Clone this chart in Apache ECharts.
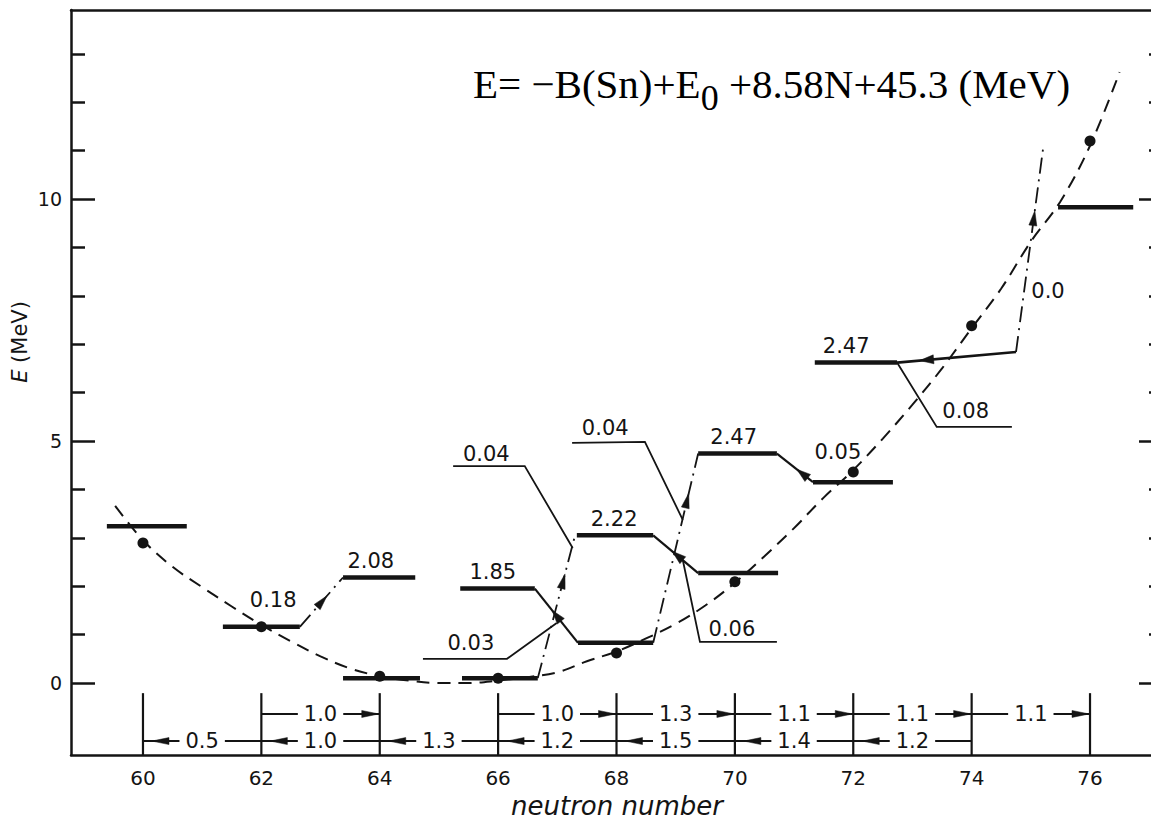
<!DOCTYPE html>
<html>
<head>
<meta charset="utf-8">
<script src="https://cdn.jsdelivr.net/npm/echarts@6/dist/echarts.min.js"></script>
<style>
  html, body { margin: 0; padding: 0; background: #fff; }
  #chart { width: 1151px; height: 822px; }
</style>
</head>
<body>
<div id="chart"></div>
<script>
// ---- axis ranges and ticks ----
const X_MIN = 58.784, X_MAX = 77.233;
const Y_MIN = -1.488, Y_MAX = 13.905;
const xTickLabels = [60, 62, 64, 66, 68, 70, 72, 74, 76];
const yMajorTicks = [0, 5, 10];
const yMinorTicks = [1, 2, 3, 4, 6, 7, 8, 9, 11, 12, 13];

// ---- ground-state levels (N span, energy in MeV) ----
const groundStart = [59.39, 61.35, 63.38, 65.39, 67.35, 69.38, 71.32, 75.46];
const groundEnd   = [60.74, 62.65, 64.68, 66.67, 68.62, 70.73, 72.67, 76.73];
const groundE     = [3.24, 1.16, 0.10, 0.10, 0.83, 2.27, 4.15, 9.83];

// ---- excited states: parent ground level, N span, excitation energy ----
const excitedGround = [2, 3, 4, 5, 6];
const excitedStart  = [63.38, 65.36, 67.33, 69.38, 71.35];
const excitedEnd    = [64.60, 66.62, 68.62, 70.71, 72.74];
const excitedEnergy = [2.08, 1.85, 2.22, 2.47, 2.47];
const excitedLabelN = [63.85, 65.91, 67.96, 69.98, 71.88];

// ---- two-neutron transfer transitions (dash-dot) ----
const transFromN = [62.65, 66.67, 68.62, 74.75];
const transFromE = [1.16, 0.10, 0.83, 6.84];
const transToN   = [63.38, 67.30, 69.38, 75.21];
const transToE   = [2.18, 3.05, 4.74, 11.07];

// ---- solid connectors between levels ----
const linkFromN = [66.62, 68.62, 70.71, 72.74];
const linkFromE = [1.95, 3.05, 4.74, 6.62];
const linkToN   = [67.35, 69.38, 71.32, 74.75];
const linkToE   = [0.83, 2.27, 4.15, 6.84];

// ---- leader lines for strength labels ----
const leaderPaths = [
  [[65.24, 4.48], [66.45, 4.48], [67.26, 2.79]],
  [[67.25, 4.96], [68.48, 4.98], [69.12, 3.37]],
  [[64.73, 0.50], [66.15, 0.50], [66.99, 1.24]],
  [[69.12, 2.54], [69.41, 0.85], [70.71, 0.85]],
  [[72.74, 6.62], [73.41, 5.29], [74.68, 5.29]]
];

// ---- strength labels ----
const strengthText = ['0.04', '0.04', '0.03', '0.06', '0.08', '0.18', '0.05', '0.0'];
const strengthN    = [65.80, 67.81, 65.54, 69.95, 73.90, 62.20, 71.74, 75.29];
const strengthE    = [4.73, 5.27, 0.83, 1.12, 5.62, 1.71, 4.77, 8.10];

// ---- dashed systematics curve ----
const curveN = [59.53, 60.0, 60.5, 61.0, 61.5, 62.0, 62.5, 63.0, 63.5, 64.0, 64.5, 65.0, 65.5,
                66.0, 66.5, 67.0, 67.5, 68.0, 68.5, 69.0, 69.5, 70.0, 70.5, 71.0, 71.5, 72.0,
                72.5, 73.0, 73.5, 74.0, 74.5, 75.0, 75.5, 76.0, 76.5];
const curveE = [3.66, 2.95, 2.40, 1.98, 1.58, 1.20, 0.86, 0.55, 0.30, 0.14, 0.05, 0.0, 0.0,
                0.05, 0.12, 0.22, 0.45, 0.65, 0.92, 1.22, 1.60, 2.07, 2.62, 3.20, 3.83, 4.40,
                5.05, 5.75, 6.50, 7.33, 8.15, 9.12, 9.95, 11.10, 12.62];

// ---- measured points ----
const dotN = [60, 62, 64, 66, 68, 70, 72, 74, 76];
const dotE = [2.89, 1.16, 0.14, 0.10, 0.62, 2.09, 4.36, 7.38, 11.2];

// ---- separation-energy brackets below the levels ----
const bracketN = [60, 62, 64, 66, 68, 70, 72, 74, 76];
const bracketTopE = -0.21;
const forwardRowE = -0.64;
const forwardFrom = [62, 66, 68, 70, 72, 74];
const forwardTo   = [64, 68, 70, 72, 74, 76];
const forwardText = ['1.0', '1.0', '1.3', '1.1', '1.1', '1.1'];
const backwardRowE = -1.20;
const backwardFrom = [60, 62, 64, 66, 68, 70, 72];
const backwardTo   = [62, 64, 66, 68, 70, 72, 74];
const backwardText = ['0.5', '1.0', '1.3', '1.2', '1.5', '1.4', '1.2'];

// ---- styling ----
const INK = '#141414';
const SANS = '"DejaVu Sans", "Liberation Sans", sans-serif';
const SERIF = '"Liberation Serif", "Times New Roman", serif';
const LABEL_FONT = '21px ' + SANS;
const transArrowAt = [0.63, 0.73, 0.79, 0.69];
const linkArrowAt = [0.40, 0.42, 0.55, 0.19];

function arrowHead(tip, dir, len, half) {
  const bx = tip[0] - dir[0] * len, by = tip[1] - dir[1] * len;
  const nx = -dir[1], ny = dir[0];
  return {
    type: 'polygon',
    shape: { points: [[tip[0], tip[1]], [bx + nx * half, by + ny * half], [bx - nx * half, by - ny * half]] },
    style: { fill: INK, stroke: INK, lineWidth: 0.5 }
  };
}
function unit(a, b) {
  const dx = b[0] - a[0], dy = b[1] - a[1];
  const l = Math.sqrt(dx * dx + dy * dy) || 1;
  return [dx / l, dy / l];
}
function seg(a, b, width, dash) {
  return {
    type: 'line',
    shape: { x1: a[0], y1: a[1], x2: b[0], y2: b[1] },
    style: { stroke: INK, lineWidth: width, lineDash: dash || null, fill: null }
  };
}
function label(p, text, font, vAlign, bg) {
  const st = { text: text, x: p[0], y: p[1], font: font, fill: INK, align: 'center', verticalAlign: vAlign || 'middle' };
  if (bg) { st.backgroundColor = '#fff'; st.padding = [0, 6]; }
  return { type: 'text', style: st, z2: 10 };
}

const chart = echarts.init(document.getElementById('chart'), null, { renderer: 'svg' });

const yCommon = { type: 'value', min: Y_MIN, max: Y_MAX, splitLine: { show: false } };
const option = {
  animation: false,
  backgroundColor: '#fff',
  grid: { left: 71, top: 10, width: 1092, bottom: 67, containLabel: false, outerBoundsMode: 'none' },
  xAxis: [
    {
      type: 'value', min: X_MIN, max: X_MAX, position: 'bottom',
      axisLine: { show: true, onZero: false, lineStyle: { color: INK, width: 2.5 } },
      axisTick: { show: false }, splitLine: { show: false },
      axisLabel: { customValues: xTickLabels, color: INK, fontSize: 20, fontFamily: SANS, margin: 13 },
      name: 'neutron number', nameLocation: 'middle', nameGap: 37,
      nameTextStyle: { fontStyle: 'italic', fontSize: 26, color: INK, fontFamily: SANS }
    },
    {
      type: 'value', min: X_MIN, max: X_MAX, position: 'top',
      axisLine: { show: true, onZero: false, lineStyle: { color: INK, width: 2.5 } },
      axisTick: { show: false }, axisLabel: { show: false }, splitLine: { show: false }
    }
  ],
  yAxis: [
    Object.assign({}, yCommon, {
      position: 'left',
      axisLine: { show: true, onZero: false, lineStyle: { color: INK, width: 2.5 } },
      axisTick: { show: true, inside: true, length: 24, customValues: yMajorTicks, lineStyle: { color: INK, width: 2.5 } },
      axisLabel: { customValues: yMajorTicks, color: INK, fontSize: 19, fontFamily: SANS, margin: 9 }
    }),
    Object.assign({}, yCommon, {
      position: 'left',
      axisLine: { show: false },
      axisTick: { show: true, inside: true, length: 14, customValues: yMinorTicks, lineStyle: { color: INK, width: 2.5 } },
      axisLabel: { show: false }
    }),
    Object.assign({}, yCommon, {
      position: 'right',
      axisLine: { show: true, onZero: false, lineStyle: { color: INK, width: 2.5 } },
      axisTick: { show: true, inside: true, length: 24, customValues: yMajorTicks, lineStyle: { color: INK, width: 2.5 } },
      axisLabel: { show: false }
    }),
    Object.assign({}, yCommon, {
      position: 'right',
      axisLine: { show: false },
      axisTick: { show: true, inside: true, length: 14, customValues: yMinorTicks, lineStyle: { color: INK, width: 2.5 } },
      axisLabel: { show: false }
    })
  ],
  graphic: [
    {
      type: 'text', x: 473, y: 84, z: 100,
      style: {
        text: 'E= \u2212B(Sn)+E{s|0} +8.58N+45.3 (MeV)',
        font: '41px ' + SERIF,
        fill: '#000', align: 'left', verticalAlign: 'middle', lineHeight: 64,
        rich: {
          s: { fontSize: 36, fontFamily: SERIF, lineHeight: 40, verticalAlign: 'bottom', fill: '#000' }
        }
      }
    },
    {
      type: 'text', x: 20, y: 342, rotation: Math.PI / 2, z: 100,
      style: {
        text: '{i|E} (MeV)', font: '21px ' + SANS, fill: INK, align: 'center', verticalAlign: 'middle',
        rich: { i: { fontStyle: 'italic', fontSize: 21, fontFamily: SANS } }
      }
    }
  ],
  series: [
    {
      type: 'line', data: curveN.map((n, i) => [n, curveE[i]]), smooth: 0.35, symbol: 'none', silent: true,
      lineStyle: { color: INK, width: 2, type: [13, 8] }, z: 2
    },
    {
      type: 'scatter', data: dotN.map((n, i) => [n, dotE[i]]), symbol: 'circle', symbolSize: 11,
      itemStyle: { color: INK, opacity: 1 }, silent: true, z: 6
    },
    {
      // ground-state levels
      type: 'custom', clip: false, silent: true, z: 4,
      data: groundE.map((e, i) => [groundStart[i], e]),
      renderItem: (p, api) => {
        const i = p.dataIndex;
        return seg(api.coord([groundStart[i], groundE[i]]), api.coord([groundEnd[i], groundE[i]]), 4.5);
      }
    },
    {
      // excited states with their excitation energies
      type: 'custom', clip: false, silent: true, z: 4,
      data: excitedEnergy.map((x, i) => [excitedStart[i], groundE[excitedGround[i]] + x]),
      renderItem: (p, api) => {
        const i = p.dataIndex;
        const e = groundE[excitedGround[i]] + excitedEnergy[i];
        const a = api.coord([excitedStart[i], e]), b = api.coord([excitedEnd[i], e]);
        const lp = api.coord([excitedLabelN[i], e]);
        return {
          type: 'group',
          children: [seg(a, b, 4.5), label([lp[0], lp[1] - 6], excitedEnergy[i].toFixed(2), LABEL_FONT, 'bottom')]
        };
      }
    },
    {
      // dash-dot transfer transitions
      type: 'custom', clip: false, silent: true, z: 3,
      data: transFromN.map((n, i) => [n, transFromE[i]]),
      renderItem: (p, api) => {
        const i = p.dataIndex;
        const a = api.coord([transFromN[i], transFromE[i]]), b = api.coord([transToN[i], transToE[i]]);
        const d = unit(a, b), t = transArrowAt[i];
        const tip = [a[0] + (b[0] - a[0]) * t, a[1] + (b[1] - a[1]) * t];
        return { type: 'group', children: [seg(a, b, 1.8, [16, 6, 2, 6]), arrowHead(tip, d, 15, 4)] };
      }
    },
    {
      // solid connectors between levels
      type: 'custom', clip: false, silent: true, z: 3,
      data: linkFromN.map((n, i) => [n, linkFromE[i]]),
      renderItem: (p, api) => {
        const i = p.dataIndex;
        const a = api.coord([linkFromN[i], linkFromE[i]]), b = api.coord([linkToN[i], linkToE[i]]);
        const d = unit(b, a), t = linkArrowAt[i];
        const tip = [a[0] + (b[0] - a[0]) * t, a[1] + (b[1] - a[1]) * t];
        return { type: 'group', children: [seg(a, b, i === 3 ? 2.6 : 2.2), arrowHead(tip, d, 14, 4.5)] };
      }
    },
    {
      // leader lines
      type: 'custom', clip: false, silent: true, z: 3,
      data: leaderPaths.map(pth => pth[0]),
      renderItem: (p, api) => {
        const pts = leaderPaths[p.dataIndex].map(q => api.coord(q));
        return { type: 'polyline', shape: { points: pts }, style: { stroke: INK, lineWidth: 1.8, fill: null } };
      }
    },
    {
      // strength labels
      type: 'custom', clip: false, silent: true, z: 7,
      data: strengthN.map((n, i) => [n, strengthE[i]]),
      renderItem: (p, api) => {
        const i = p.dataIndex;
        return label(api.coord([strengthN[i], strengthE[i]]), strengthText[i], LABEL_FONT);
      }
    },
    {
      // bracket verticals
      type: 'custom', clip: false, silent: true, z: 3,
      data: bracketN.map(n => [n, bracketTopE]),
      renderItem: (p, api) => {
        const n = bracketN[p.dataIndex];
        return seg(api.coord([n, bracketTopE]), api.coord([n, Y_MIN]), 2.2);
      }
    },
    {
      // upper bracket row: arrows towards higher N
      type: 'custom', clip: false, silent: true, z: 3,
      data: forwardFrom.map(n => [n, forwardRowE]),
      renderItem: (p, api) => {
        const i = p.dataIndex;
        const a = api.coord([forwardFrom[i], forwardRowE]), b = api.coord([forwardTo[i], forwardRowE]);
        const mid = [(a[0] + b[0]) / 2, a[1]];
        return {
          type: 'group',
          children: [seg(a, b, 2), arrowHead([b[0] - 1, b[1]], [1, 0], 17, 3.5), label(mid, forwardText[i], LABEL_FONT, 'middle', true)]
        };
      }
    },
    {
      // lower bracket row: arrows towards lower N
      type: 'custom', clip: false, silent: true, z: 3,
      data: backwardFrom.map(n => [n, backwardRowE]),
      renderItem: (p, api) => {
        const i = p.dataIndex;
        const a = api.coord([backwardFrom[i], backwardRowE]), b = api.coord([backwardTo[i], backwardRowE]);
        const mid = [(a[0] + b[0]) / 2, a[1]];
        return {
          type: 'group',
          children: [seg(a, b, 2), arrowHead([a[0] + 9, a[1]], [-1, 0], 17, 3.5), label(mid, backwardText[i], LABEL_FONT, 'middle', true)]
        };
      }
    }
  ]
};
chart.setOption(option);
</script>
</body>
</html>
